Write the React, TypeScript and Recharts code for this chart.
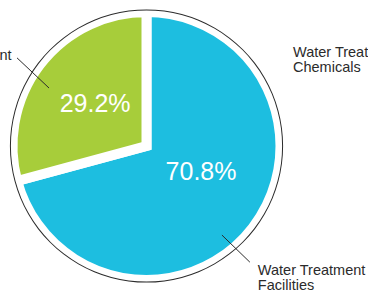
import { Cell, Pie, PieChart } from "recharts";

const segments = ["Water Treatment Facilities", "Water Treatment Equipment"];
const shares = [70.8, 29.2];
const nameLines = [["Water Treatment", "Facilities"], ["Water Treatment Equipment"]];
const sideNote = ["Water Treatment", "Chemicals"];
const colors = ["#1dbee0", "#a7cd3a"];

const data = segments.map((name, i) => ({ name, value: shares[i] }));
const ring = [{ name: "ring", value: 1 }];

const FONT = '"Liberation Sans", Arial, Helvetica, sans-serif';
const INK = "#2b2b2b";
const RADIAN = Math.PI / 180;

const at = (cx: number, cy: number, r: number, angle: number) => ({
  x: cx + r * Math.cos(-angle * RADIAN),
  y: cy + r * Math.sin(-angle * RADIAN),
});

// hand-tuned label placement, per slice
const labelLayout = [
  { pctR: 60, pctShift: 12.8, lineR: [116.7, 155.5], lineShift: [-12.3, -10.9], dx: 8, dy: 12.5, anchor: "start" },
  { pctR: 67, pctShift: -2.5, lineR: [113.4, 156.6], lineShift: [6.7, 3.2], dx: -5.5, dy: 2, anchor: "end" },
];

function renderLabel(props: any) {
  const { cx, cy, midAngle, index } = props;
  const l = labelLayout[index];
  const p = at(cx, cy, l.pctR, midAngle + l.pctShift);
  const a = at(cx, cy, l.lineR[0], midAngle + l.lineShift[0]);
  const b = at(cx, cy, l.lineR[1], midAngle + l.lineShift[1]);
  return (
    <g key={`lbl-${index}`}>
      <text
        x={p.x}
        y={p.y}
        fill="#fff"
        fontSize={25}
        fontFamily={FONT}
        textAnchor="middle"
        dominantBaseline="central"
      >
        {`${shares[index].toFixed(1)}%`}
      </text>
      <line x1={a.x} y1={a.y} x2={b.x} y2={b.y} stroke={INK} strokeWidth={1} />
      <text
        x={b.x + l.dx}
        y={b.y + l.dy}
        fill={INK}
        fontSize={14.5}
        fontFamily={FONT}
        textAnchor={l.anchor as any}
      >
        {nameLines[index].map((t, j) => (
          <tspan key={j} x={b.x + l.dx} dy={j === 0 ? 0 : 15}>
            {t}
          </tspan>
        ))}
      </text>
    </g>
  );
}

export default function App() {
  return (
    <div style={{ position: "absolute", left: 0, top: 0, width: 375, height: 293, background: "#fff" }}>
      <PieChart width={368} height={293} margin={{ top: 0, right: 0, bottom: 0, left: 0 }}>
        <Pie
          data={data}
          dataKey="value"
          cx={146.5}
          cy={146}
          outerRadius={134}
          startAngle={90}
          endAngle={-270}
          stroke="#fff"
          strokeWidth={10}
          label={renderLabel}
          labelLine={false}
          isAnimationActive={false}
        >
          {data.map((entry, index) => (
            <Cell key={`cell-${index}`} fill={colors[index]} />
          ))}
        </Pie>
        <Pie
          data={ring}
          dataKey="value"
          cx={146.5}
          cy={146}
          innerRadius={135.6}
          outerRadius={136.6}
          startAngle={0}
          endAngle={360}
          fill={INK}
          stroke="none"
          isAnimationActive={false}
        />
        <text x={293} y={57} fill={INK} fontSize={14.5} fontFamily={FONT}>
          {sideNote.map((t, j) => (
            <tspan key={j} x={293} dy={j === 0 ? 0 : 15}>
              {t}
            </tspan>
          ))}
        </text>
      </PieChart>
    </div>
  );
}
